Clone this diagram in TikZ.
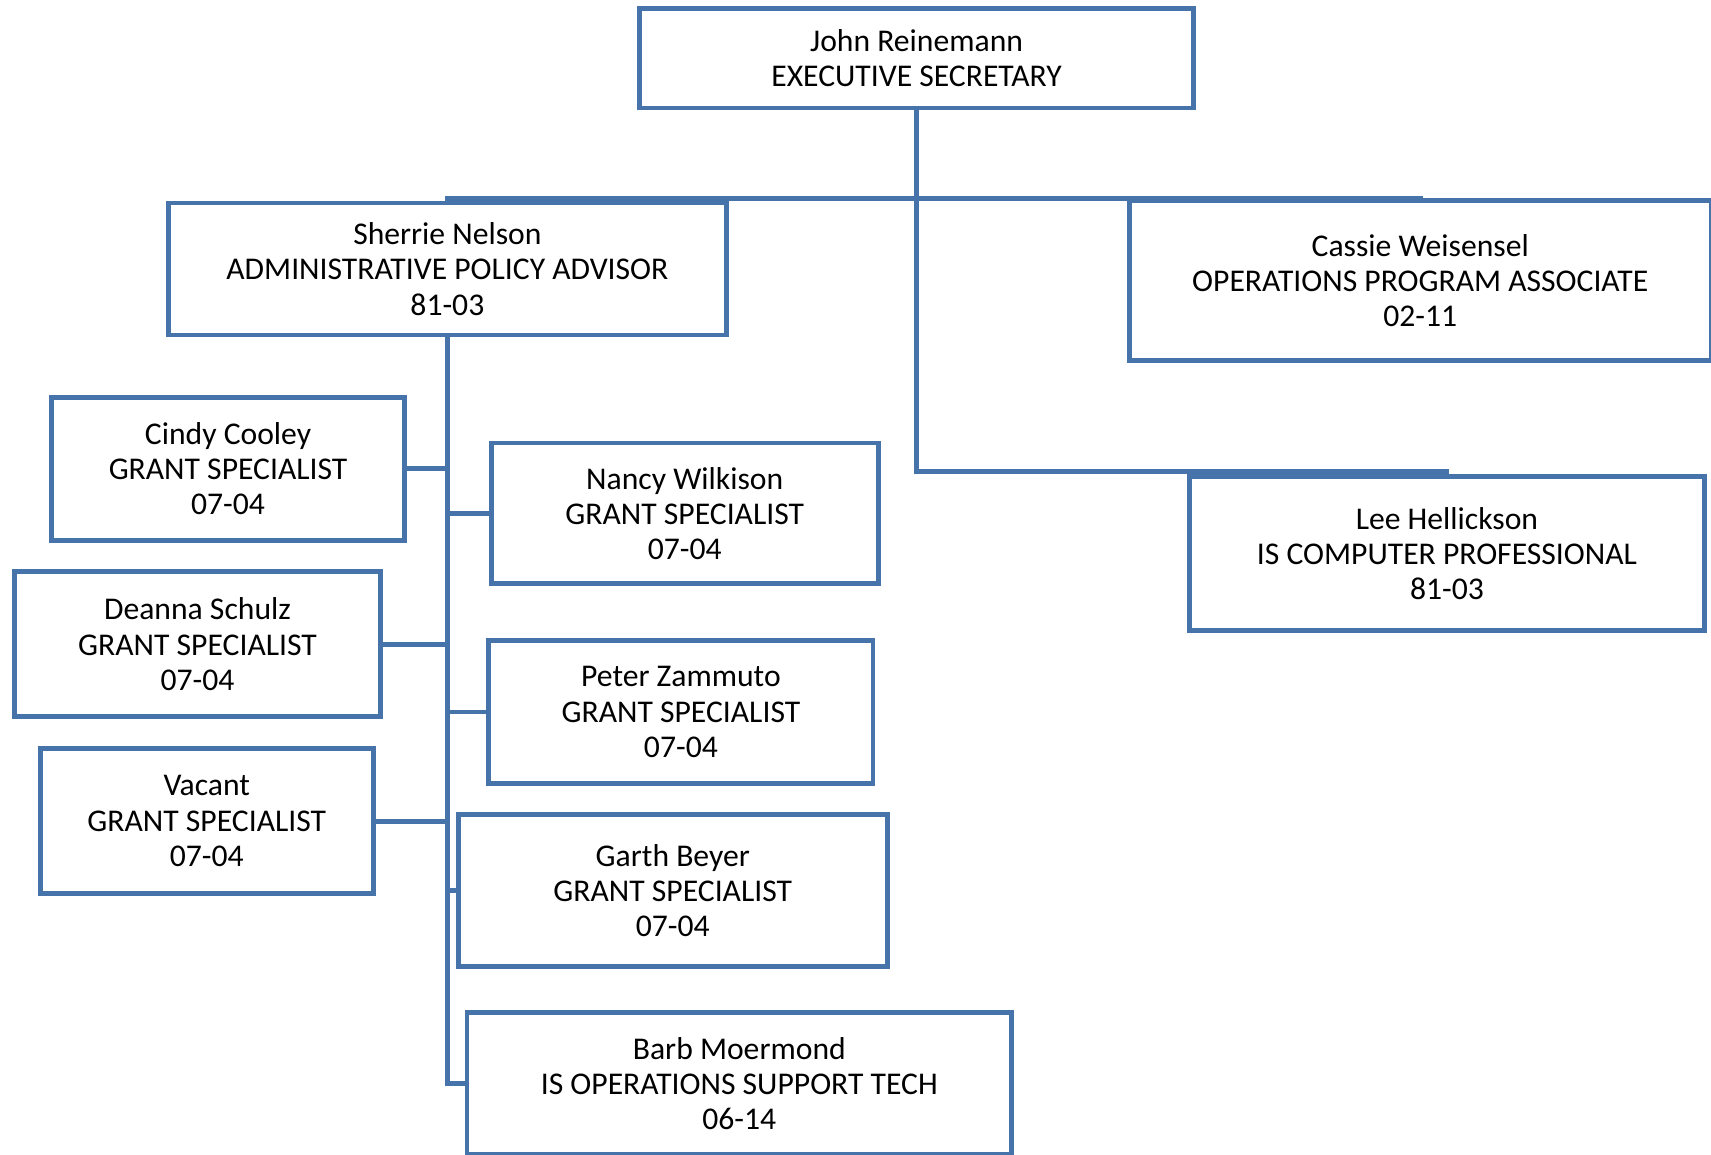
\documentclass[tikz,border=0pt]{standalone}
\usepackage{fontspec}
\setmainfont{Carlito}
\usepackage{tikz}
\definecolor{chartblue}{RGB}{70,116,170}
\tikzset{
  post/.style={shape=rectangle,draw=chartblue,line width=4.5pt,fill=white,align=center,
    inner sep=0,font=\fontsize{29}{32.3}\selectfont},
  link/.style={draw=chartblue,line width=4.5pt}
}
\begin{document}
\begin{tikzpicture}[x=1pt,y=-1pt]
      \useasboundingbox (0,0) rectangle (1568,1058);
      \coordinate (hub) at (840,182);
      % links first, boxes on top
      \begin{scope}
        \draw[link] (840,99) -- (hub);
        \draw[link] (hub) -| (410,187);
        \draw[link] (hub) -| (1302,185);
        \draw[link] (hub) |- (1328,432);
        \draw[link] (410,307) |- (428,993);
      \end{scope}
      \node[post,minimum width=508,minimum height=91] (john) at (840,53.5)
        {John Reinemann\\EXECUTIVE SECRETARY};
      \node[post,minimum width=512,minimum height=121] (sherrie) at (410,246.5)
        {Sherrie Nelson\\ADMINISTRATIVE POLICY ADVISOR\\81-03};
      \node[post,minimum width=533,minimum height=146] (cassie) at (1301.5,257)
        {Cassie Weisensel\\OPERATIONS PROGRAM ASSOCIATE\\02-11};
      \node[post,minimum width=472,minimum height=141] (lee) at (1326,507.5)
        {Lee Hellickson\\IS COMPUTER PROFESSIONAL\\81-03};
      \node[post,minimum width=324,minimum height=131] (cindy) at (209,429.5)
        {Cindy Cooley\\GRANT SPECIALIST\\07-04};
      \node[post,minimum width=336,minimum height=133] (deanna) at (181,590.5)
        {Deanna Schulz\\GRANT SPECIALIST\\07-04};
      \node[post,minimum width=305,minimum height=133] (vacant) at (189.5,752.5)
        {Vacant\\GRANT SPECIALIST\\07-04};
      \node[post,minimum width=355,minimum height=129] (nancy) at (627.5,470.5)
        {Nancy Wilkison\\GRANT SPECIALIST\\07-04};
      \node[post,minimum width=352,minimum height=131] (peter) at (624,652.5)
        {Peter Zammuto\\GRANT SPECIALIST\\07-04};
      \node[post,minimum width=393,minimum height=140] (garth) at (616.5,816)
        {Garth Beyer\\GRANT SPECIALIST\\07-04};
      \node[post,minimum width=499,minimum height=130] (barb) at (677.5,993)
        {Barb Moermond\\IS OPERATIONS SUPPORT TECH\\06-14};
      % staff branches off the advisor line
      \foreach \n in {cindy,deanna,vacant}
        \draw[link] (sherrie.south |- \n.east) -- (\n.east);
      \foreach \n in {nancy,peter,garth}
        \draw[link] (sherrie.south |- \n.west) -- (\n.west);
    \end{tikzpicture}
\end{document}
